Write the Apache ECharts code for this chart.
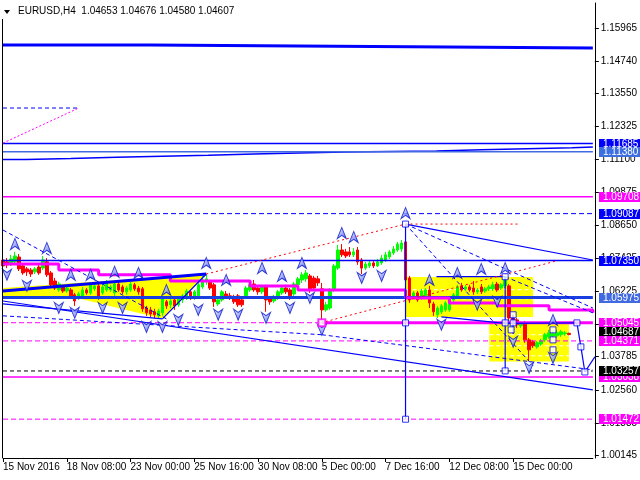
<!DOCTYPE html>
<html>
<head>
<meta charset="utf-8">
<script src="https://cdn.jsdelivr.net/npm/echarts@6/dist/echarts.min.js"></script>
<style>
  html, body { margin: 0; padding: 0; background: #ffffff; }
  #chart { width: 640px; height: 480px; }
</style>
</head>
<body>
<div id="chart"></div>
<script>
// ---- chart data -------------------------------------------------------
const symbolTitle = 'EURUSD,H4';
const lastBarOHLC = [1.04653, 1.04676, 1.04580, 1.04607];

const timeLabels = ['15 Nov 2016', '18 Nov 08:00', '23 Nov 00:00', '25 Nov 16:00',
  '30 Nov 08:00', '5 Dec 00:00', '7 Dec 16:00', '12 Dec 08:00', '15 Dec 00:00'];
const barsPerLabel = 16;
const slotCount = 149;   // 143 bars plus empty space on the right

const priceTicks = [1.15965, 1.14740, 1.13550, 1.12325, 1.11100, 1.09875, 1.08650,
  1.07425, 1.06225, 1.05000, 1.03785, 1.02560, 1.01335, 1.00145];
const priceMin = 1.00033;
const priceMax = 1.16891;

// H4 candles: [open, close, low, high]
const candles = [
  [1.0737,1.0715,1.0707,1.0752],[1.0730,1.0719,1.0707,1.0744],[1.0719,1.0741,1.0715,1.0756],[1.0730,1.0752,1.0722,1.0767],
  [1.0748,1.0704,1.0696,1.0759],[1.0715,1.0689,1.0682,1.0726],[1.0704,1.0693,1.0678,1.0711],[1.0700,1.0685,1.0674,1.0707],
  [1.0693,1.0704,1.0685,1.0711],[1.0711,1.0689,1.0682,1.0719],[1.0707,1.0737,1.0700,1.0752],[1.0730,1.0682,1.0674,1.0744],
  [1.0689,1.0645,1.0637,1.0696],[1.0659,1.0633,1.0626,1.0670],[1.0626,1.0648,1.0619,1.0656],[1.0637,1.0622,1.0615,1.0645],
  [1.0622,1.0633,1.0615,1.0641],[1.0626,1.0604,1.0596,1.0633],[1.0608,1.0585,1.0567,1.0615],[1.0596,1.0611,1.0589,1.0619],
  [1.0600,1.0626,1.0593,1.0637],[1.0626,1.0615,1.0608,1.0633],[1.0615,1.0645,1.0608,1.0652],[1.0630,1.0641,1.0622,1.0648],
  [1.0641,1.0600,1.0589,1.0648],[1.0615,1.0637,1.0608,1.0648],[1.0626,1.0652,1.0619,1.0663],[1.0626,1.0637,1.0619,1.0645],
  [1.0615,1.0648,1.0604,1.0656],[1.0648,1.0626,1.0619,1.0663],[1.0637,1.0619,1.0611,1.0645],[1.0619,1.0633,1.0608,1.0641],
  [1.0626,1.0648,1.0619,1.0656],[1.0645,1.0630,1.0622,1.0652],[1.0633,1.0619,1.0608,1.0641],[1.0630,1.0556,1.0545,1.0637],
  [1.0559,1.0541,1.0530,1.0567],[1.0552,1.0537,1.0526,1.0563],[1.0545,1.0534,1.0522,1.0556],[1.0530,1.0548,1.0519,1.0556],
  [1.0541,1.0593,1.0530,1.0604],[1.0582,1.0567,1.0556,1.0589],[1.0571,1.0585,1.0559,1.0593],[1.0589,1.0567,1.0552,1.0596],
  [1.0571,1.0596,1.0563,1.0604],[1.0589,1.0604,1.0578,1.0611],[1.0596,1.0622,1.0589,1.0630],[1.0619,1.0596,1.0589,1.0626],
  [1.0596,1.0619,1.0589,1.0626],[1.0604,1.0645,1.0596,1.0652],[1.0637,1.0663,1.0630,1.0678],[1.0656,1.0667,1.0645,1.0682],
  [1.0656,1.0633,1.0626,1.0663],[1.0645,1.0582,1.0563,1.0652],[1.0574,1.0589,1.0567,1.0596],[1.0589,1.0619,1.0582,1.0626],
  [1.0611,1.0604,1.0596,1.0622],[1.0604,1.0596,1.0589,1.0615],[1.0600,1.0582,1.0574,1.0608],[1.0604,1.0571,1.0563,1.0611],
  [1.0589,1.0571,1.0563,1.0596],[1.0604,1.0633,1.0596,1.0641],[1.0626,1.0645,1.0619,1.0652],[1.0648,1.0626,1.0619,1.0663],
  [1.0633,1.0619,1.0608,1.0641],[1.0619,1.0637,1.0611,1.0645],[1.0637,1.0589,1.0545,1.0645],[1.0596,1.0582,1.0571,1.0604],
  [1.0585,1.0600,1.0578,1.0608],[1.0596,1.0619,1.0589,1.0626],[1.0615,1.0633,1.0608,1.0641],[1.0633,1.0619,1.0611,1.0645],
  [1.0626,1.0604,1.0589,1.0633],[1.0611,1.0648,1.0604,1.0656],[1.0645,1.0667,1.0637,1.0674],[1.0663,1.0682,1.0652,1.0693],
  [1.0667,1.0689,1.0656,1.0700],[1.0678,1.0626,1.0615,1.0685],[1.0670,1.0633,1.0626,1.0678],[1.0667,1.0652,1.0641,1.0678],
  [1.0630,1.0552,1.0515,1.0652],[1.0552,1.0571,1.0545,1.0582],[1.0559,1.0626,1.0552,1.0633],[1.0626,1.0715,1.0619,1.0722],
  [1.0707,1.0774,1.0700,1.0793],[1.0774,1.0756,1.0748,1.0796],[1.0767,1.0752,1.0744,1.0778],[1.0767,1.0756,1.0748,1.0785],
  [1.0756,1.0767,1.0748,1.0781],[1.0774,1.0730,1.0719,1.0785],[1.0737,1.0707,1.0685,1.0744],[1.0707,1.0722,1.0700,1.0730],
  [1.0715,1.0726,1.0707,1.0733],[1.0726,1.0715,1.0707,1.0733],[1.0715,1.0730,1.0711,1.0741],[1.0726,1.0744,1.0719,1.0756],
  [1.0737,1.0756,1.0730,1.0767],[1.0748,1.0767,1.0741,1.0774],[1.0763,1.0778,1.0756,1.0789],[1.0774,1.0796,1.0767,1.0804],
  [1.0778,1.0800,1.0767,1.0811],[1.0804,1.0663,1.0652,1.0870],[1.0670,1.0589,1.0578,1.0678],[1.0600,1.0615,1.0593,1.0622],
  [1.0615,1.0589,1.0582,1.0622],[1.0596,1.0622,1.0589,1.0630],[1.0604,1.0626,1.0596,1.0633],[1.0626,1.0578,1.0559,1.0641],
  [1.0574,1.0545,1.0530,1.0582],[1.0534,1.0559,1.0522,1.0567],[1.0545,1.0567,1.0537,1.0574],[1.0552,1.0578,1.0545,1.0585],
  [1.0552,1.0596,1.0545,1.0604],[1.0589,1.0608,1.0582,1.0615],[1.0600,1.0637,1.0593,1.0645],[1.0641,1.0626,1.0619,1.0652],
  [1.0630,1.0637,1.0622,1.0645],[1.0637,1.0626,1.0619,1.0645],[1.0633,1.0619,1.0608,1.0659],[1.0619,1.0626,1.0611,1.0633],
  [1.0637,1.0619,1.0611,1.0648],[1.0622,1.0630,1.0615,1.0637],[1.0630,1.0637,1.0622,1.0645],[1.0630,1.0645,1.0622,1.0656],
  [1.0648,1.0626,1.0619,1.0656],[1.0633,1.0645,1.0626,1.0652],[1.0641,1.0663,1.0633,1.0678],[1.0641,1.0522,1.0511,1.0648],
  [1.0522,1.0508,1.0493,1.0534],[1.0515,1.0497,1.0485,1.0522],[1.0493,1.0500,1.0485,1.0508],[1.0504,1.0441,1.0430,1.0511],
  [1.0441,1.0404,1.0363,1.0448],[1.0434,1.0419,1.0411,1.0441],[1.0415,1.0430,1.0408,1.0437],[1.0426,1.0437,1.0419,1.0445],
  [1.0441,1.0460,1.0434,1.0467],[1.0452,1.0467,1.0445,1.0478],[1.0456,1.0463,1.0448,1.0474],[1.0456,1.0467,1.0448,1.0478],
  [1.0460,1.0471,1.0452,1.0478],[1.0463,1.0467,1.0456,1.0474],[1.04653,1.04607,1.04580,1.04676]
];

// Horizontal levels
const levelTop = [[0,1.15335],[37,1.15298],[74,1.15261],[111.5,1.15224],[148,1.15224]];
const levelRising = [[0,1.11089],[5.75,1.11126],[17,1.11174],[28.5,1.11211],[40,1.11249],[51.5,1.11297],
  [63,1.11334],[74.25,1.11371],[85.75,1.11393],[97,1.11410],[108.75,1.11456],[120,1.11493],[131.5,1.11530],[142.75,1.11556],[148,1.11556]];
const levelBlue = 1.11685;
const levelSteel = 1.11380;
const levelMagentaHigh = 1.09708;
const levelBlueDashed = 1.09087;
const levelBlueMid = 1.07350;
const levelPivot = 1.05975;
const levelMagentaMid = 1.05045;
const levelMagentaDashed = 1.04371;
const levelBlackDashed = 1.03257;
const levelMagentaLow = 1.03038;
const levelMagentaBottom = 1.01472;

// Stepped moving average
const maSteps = [[0,1.0722],[14,1.0700],[24,1.0682],[42,1.0659],[62,1.0641],[74,1.0626],[101,1.0596],
  [112,1.0578],[124,1.0567],[137,1.0552],[148,1.0541]];

// Trend lines: [x1, price1, x2, price2]
const blueSolidLines = [
  [101,1.0870,148,1.0737],
  [108.75,1.0675,126,1.0675],
  [110,1.0526,126,1.0502],
  [126,1.0502,144,1.0504],
  [0,1.0574,40,1.0519],
  [40,1.0519,51,1.0685],
  [0,1.0585,148,1.0256],
  [101,1.0870,101,1.0147],
  [126,1.0675,126,1.0326],
  [128,1.0534,128,1.0463],
  [144,1.0504,145,1.0415],[145,1.0415,146,1.0322],[146,1.0322,148.5,1.0378]
];
const blueThickLines = [[0,1.0622,51,1.0685]];
const blueDashedLines = [
  [0,1.0848,41,1.0519],
  [0,1.0530,80,1.0460],
  [101,1.0870,148,1.0559],
  [126,1.0675,148,1.0541],
  [101,1.0870,133,1.0345],
  [80,1.0460,148,1.0330],
  [0,1.1300,19,1.1300]
];
const redDottedLines = [
  [51,1.0685,101,1.0870],
  [101,1.0870,129.25,1.0870],
  [79.75,1.0504,138.75,1.0733]
];
const magentaDottedLines = [[0,1.1170,19,1.1300]];

// Shaded zones
const wedgeZone = [[0,1.0633],[51,1.0685],[40,1.0519],[18.5,1.0596],[0,1.0596]];
const rangeBoxes = [[101,1.0674,133,1.0526],[122,1.0503,142,1.0361]];
const boxInnerLevels = [[101,133,1.0627],[101,133,1.0593],[122,142,1.0460],[122,142,1.0419],[122,142,1.0382]];

// Fractals: [bar, price]
const fractalsUp = [[3,1.0796],[11,1.0781],[17,1.0682],[22,1.0682],[28,1.0693],[34,1.0689],[41,1.0626],
  [51,1.0726],[56,1.0663],[65,1.0707],[70,1.0678],[75,1.0726],[85,1.0837],[88,1.0822],[101,1.0911],
  [107,1.0663],[114,1.0689],[120,1.0704],[126,1.0707],[138,1.0515]];
const fractalsDown = [[1,1.0682],[6,1.0641],[14,1.0559],[18,1.0541],[25,1.0559],[30,1.0559],[36,1.0489],
  [40,1.0489],[44,1.0515],[49,1.0552],[54,1.0534],[59,1.0534],[66,1.0522],[72,1.0559],[77,1.0596],
  [80,1.0478],[90,1.0670],[95,1.0678],[110,1.0497],[119,1.0571],[124,1.0582],[128,1.0434],[132,1.0337],[138,1.0374]];

// Anchor points of the drawn objects
const anchorsBlue = [[101,1.0870],[101,1.0504],[101,1.0147],[126,1.0675],[126,1.0504],[126,1.0326],
  [128,1.0534],[128,1.0504],[127.5,1.0478],[138,1.0478],[138,1.0441],[138,1.0404],
  [144,1.0504],[145,1.0415],[146,1.0322]];
const anchorsMagenta = [[80,1.0504]];

// Price tags on the right axis (drawn in this order)
const priceTags = [
  [1.11685, '#0000ff'], [1.11380, '#3d6fe0'], [1.09708, '#ff00ff'], [1.09087, '#0000ff'],
  [1.07350, '#0000ff'], [1.05975, '#4169e1'], [1.05045, '#ff00ff'], [1.04687, '#000000'],
  [1.04371, '#ff00ff'], [1.03038, '#ff00ff'], [1.03257, '#000000'], [1.01472, '#ff00ff']
];

// ---- rendering --------------------------------------------------------
const FONT = 'Liberation Sans';
const chart = echarts.init(document.getElementById('chart'), null, { renderer: 'canvas' });
const gridRight = 45;
const axisX = 640 - gridRight + 2;
const lastX = slotCount - 1;

function lineSeries(data, color, width, type, z, step) {
  return {
    type: 'line', xAxisIndex: 1, yAxisIndex: 0, data: data, symbol: 'none',
    step: step || false, silent: true, animation: false, z: z || 4,
    lineStyle: { color: color, width: width, type: type || 'solid', cap: 'butt' }
  };
}
function segments(list, color, width, type, z) {
  return list.map(s => lineSeries([[s[0], s[1]], [s[2], s[3]]], color, width, type, z));
}
function level(price, color, width, type, from) {
  return lineSeries([[from || 0, price], [lastX, price]], color, width, type, 3);
}
function polygonSeries(points, z) {
  return {
    type: 'custom', xAxisIndex: 1, yAxisIndex: 0, data: points, silent: true, animation: false, z: z || 1,
    renderItem: (params, api) => params.dataIndex !== 0 ? null : {
      type: 'polygon', shape: { points: points.map(p => api.coord(p)) },
      style: { fill: '#ffff00' }
    }
  };
}

const seriesList = [];
seriesList.push(polygonSeries(wedgeZone));
rangeBoxes.forEach(b => seriesList.push(polygonSeries([[b[0], b[1]], [b[2], b[1]], [b[2], b[3]], [b[0], b[3]]])));
boxInnerLevels.forEach(l => seriesList.push(lineSeries([[l[0], l[2]], [l[1], l[2]]], '#ffffff', 1, [4, 3], 1.5)));

// horizontal levels
seriesList.push(lineSeries(levelTop, '#0000ff', 3, 'solid', 3, 'end'));
seriesList.push(lineSeries(levelRising, '#0000ff', 1.5, 'solid', 3, 'end'));
seriesList.push(level(levelBlue, '#0000ff', 1.5));
seriesList.push(level(levelSteel, '#4169e1', 1.5));
seriesList.push(level(levelMagentaHigh, '#ff00ff', 1.5));
seriesList.push(level(levelBlueDashed, '#0000ff', 1, [5, 3]));
seriesList.push(level(levelBlueMid, '#0000ff', 1.5));
seriesList.push(level(levelPivot, '#1a3fe0', 3));
seriesList.push(lineSeries([[0, levelMagentaMid], [80, levelMagentaMid]], '#ff00ff', 1, [5, 3], 3));
seriesList.push(level(levelMagentaMid, '#ff00ff', 3, 'solid', 80));
seriesList.push(level(levelMagentaDashed, '#ff00ff', 1, [5, 3]));
seriesList.push(level(levelBlackDashed, '#000000', 1, [4, 3]));
seriesList.push(level(levelMagentaLow, '#ff00ff', 1.5));
seriesList.push(level(levelMagentaBottom, '#ff00ff', 1, [5, 3]));
seriesList.push(lineSeries(maSteps, '#ff00ff', 3, 'solid', 4, 'end'));

// candles
seriesList.push({
  type: 'candlestick', xAxisIndex: 0, yAxisIndex: 0, data: candles, barWidth: 3,
  silent: true, animation: false, z: 2,
  itemStyle: { color: '#00ff00', color0: '#ff0000', borderColor: '#00ff00', borderColor0: '#ff0000', borderWidth: 1 }
});

// trend lines
seriesList.push(...segments(blueThickLines, '#0000ff', 3, 'solid', 4));
seriesList.push(...segments(blueSolidLines, '#0000ff', 1.2, 'solid', 4));
seriesList.push(...segments(blueDashedLines, '#0000ff', 1, [4, 3], 4));
seriesList.push(...segments(redDottedLines, '#ff0000', 1, [2, 3], 4));
seriesList.push(...segments(magentaDottedLines, '#ff00ff', 1, [2, 2], 4));

// fractal arrows
const upArrow = 'path://M5,0L10,12L5,8.5L0,12Z';
const downArrow = 'path://M0,0L5,3.5L10,0L5,12Z';
const arrowFill = {
  type: 'linear', x: 0, y: 0, x2: 1, y2: 1,
  colorStops: [{ offset: 0, color: '#ffffff' }, { offset: 0.55, color: '#8c98ff' }, { offset: 1, color: '#1a2cf0' }]
};
const arrowStyle = { color: arrowFill, borderColor: '#0a18c8', borderWidth: 1 };
seriesList.push({ type: 'scatter', xAxisIndex: 1, yAxisIndex: 0, data: fractalsUp, symbol: upArrow,
  symbolSize: [9, 11], itemStyle: arrowStyle, silent: true, animation: false, z: 6 });
seriesList.push({ type: 'scatter', xAxisIndex: 1, yAxisIndex: 0, data: fractalsDown, symbol: downArrow,
  symbolSize: [9, 11], itemStyle: arrowStyle, silent: true, animation: false, z: 6 });

// anchor squares
seriesList.push({ type: 'scatter', xAxisIndex: 1, yAxisIndex: 0, data: anchorsBlue, symbol: 'rect',
  symbolSize: 6, itemStyle: { color: '#ffffff', borderColor: '#0000ff', borderWidth: 1 }, silent: true, animation: false, z: 7 });
seriesList.push({ type: 'scatter', xAxisIndex: 1, yAxisIndex: 0, data: anchorsMagenta, symbol: 'rect',
  symbolSize: 7, itemStyle: { color: '#ffffff', borderColor: '#ff00ff', borderWidth: 2 }, silent: true, animation: false, z: 7 });

// price tags
seriesList.push({
  type: 'custom', xAxisIndex: 1, yAxisIndex: 0, clip: false, silent: true, animation: false, z: 20,
  data: priceTags.map(t => [lastX, t[0]]),
  renderItem: (params, api) => {
    const pt = api.coord([api.value(0), api.value(1)]);
    const tag = priceTags[params.dataIndex];
    return {
      type: 'group', children: [
        { type: 'rect', shape: { x: axisX + 2, y: Math.round(pt[1]) - 5, width: 44, height: 10 }, style: { fill: tag[1] } },
        { type: 'text', style: { text: tag[0].toFixed(5), x: axisX + 6, y: Math.round(pt[1]) + 0.5,
          verticalAlign: 'middle', fill: '#ffffff', font: '10px "' + FONT + '"' } }
      ]
    };
  }
});

const labelAt = idx => idx % barsPerLabel === 0 && idx / barsPerLabel < timeLabels.length;

chart.setOption({
  animation: false,
  backgroundColor: '#ffffff',
  grid: { left: 3, right: gridRight, top: 3, bottom: 22, containLabel: false },
  xAxis: [
    {
      type: 'category', boundaryGap: false,
      data: Array.from({ length: slotCount }, (_, i) => String(i)),
      axisLine: { show: true, onZero: false, lineStyle: { color: '#000000', width: 1 } },
      axisTick: { show: true, interval: (i) => labelAt(i), length: 4, lineStyle: { color: '#000000' } },
      axisLabel: {
        show: true, interval: (i) => labelAt(i), align: 'left', margin: 4,
        formatter: (v, i) => labelAt(i) ? timeLabels[i / barsPerLabel] : '',
        color: '#000000', fontFamily: FONT, fontSize: 10
      },
      splitLine: { show: false }
    },
    {
      type: 'value', min: 0, max: lastX, show: false,
      axisLine: { show: false, onZero: false }, axisTick: { show: false }, axisLabel: { show: false }, splitLine: { show: false }
    }
  ],
  yAxis: [{
    type: 'value', position: 'right', offset: 2, min: priceMin, max: priceMax, scale: true,
    axisLine: { show: true, onZero: false, lineStyle: { color: '#000000', width: 1 } },
    axisTick: { show: true, inside: false, length: 4, customValues: priceTicks, lineStyle: { color: '#000000' } },
    minorTick: { show: false },
    axisLabel: {
      show: true, inside: false, customValues: priceTicks, margin: 6, formatter: v => v.toFixed(5),
      color: '#000000', fontFamily: FONT, fontSize: 10
    },
    splitLine: { show: false }
  }],
  graphic: [
    { type: 'line', shape: { x1: 2.5, y1: 19, x2: 2.5, y2: 458 }, style: { stroke: '#000000', lineWidth: 1 }, z: 50 },
    { type: 'polygon', shape: { points: [[4, 10], [10, 10], [7, 14]] }, style: { fill: '#000000' }, z: 50 },
    { type: 'text', x: 18, y: 11, style: {
        text: symbolTitle + '  ' + lastBarOHLC.map(v => v.toFixed(5)).join(' '),
        fill: '#000000', font: '10px "' + FONT + '"', verticalAlign: 'middle' }, z: 50 }
  ],
  series: seriesList
});
</script>
</body>
</html>
